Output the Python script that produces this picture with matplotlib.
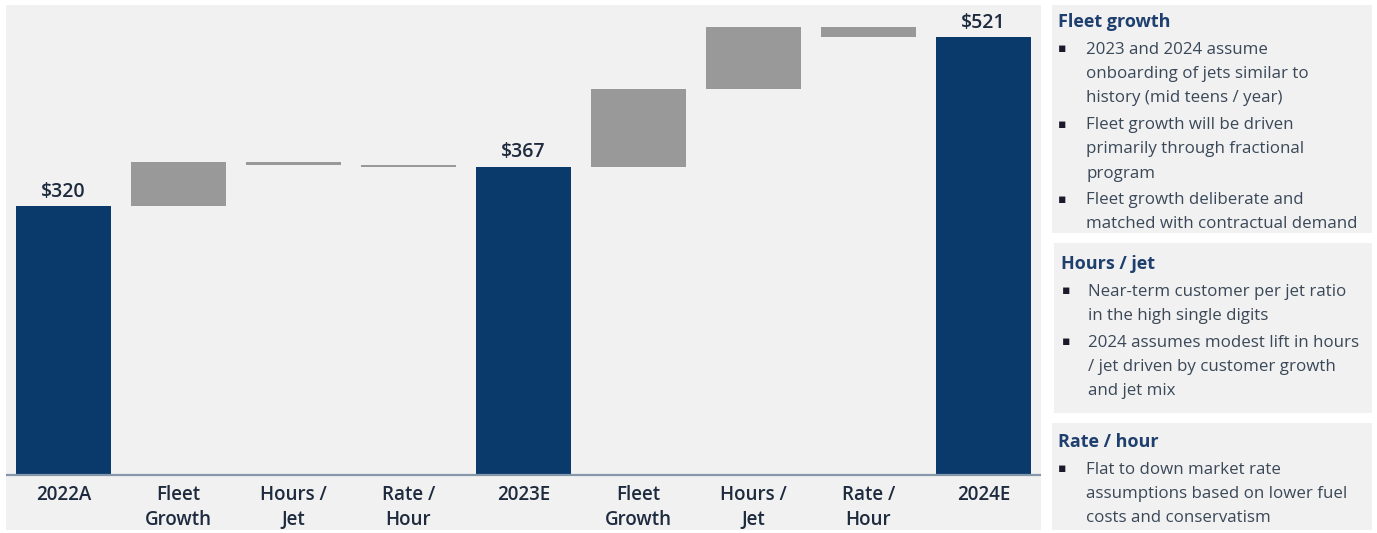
"""Waterfall of revenue build 2022A -> 2024E with commentary panels on the right."""
import matplotlib

matplotlib.use("Agg")
import matplotlib.pyplot as plt
from matplotlib.patches import Rectangle
import numpy as np

plt.rcParams["font.family"] = ["Open Sans", "DejaVu Sans"]

CATEGORIES = ["2022A", "Fleet\nGrowth", "Hours /\nJet", "Rate /\nHour", "2023E",
              "Fleet\nGrowth", "Hours /\nJet", "Rate /\nHour", "2024E"]
# totals carry a value, steps carry a delta
KINDS = ["total", "step", "step", "step", "total", "step", "step", "step", "total"]
VALUES = [320, 53, -4, -2, 367, 92, 74, -12, 521]
TOTAL_LABELS = ["$320", "$367", "$521"]

NOTE_TITLES = ["Fleet growth", "Hours / jet", "Rate / hour"]
NOTE_BULLETS = [
    ["2023 and 2024 assume\nonboarding of jets similar to\nhistory (mid teens / year)",
     "Fleet growth will be driven\nprimarily through fractional\nprogram",
     "Fleet growth deliberate and\nmatched with contractual demand"],
    ["Near-term customer per jet ratio\nin the high single digits",
     "2024 assumes modest lift in hours\n/ jet driven by customer growth\nand jet mix"],
    ["Flat to down market rate\nassumptions based on lower fuel\ncosts and conservatism"],
]

NAVY = "#0a3a6b"
GREY = "#999999"
PANEL = "#f1f1f1"
LABEL = "#1e2b3e"
TITLE = "#1f3f6e"
BODY = "#3a4858"

W, H = 1377, 533
fig = plt.figure(figsize=(W / 100, H / 100), dpi=100, facecolor="white")


def px_box(x0, y0, x1, y1):
    # pixel box (top-left origin) -> figure fraction rect
    return [x0 / W, 1 - y1 / H, (x1 - x0) / W, (y1 - y0) / H]


ax = fig.add_axes(px_box(6, 5, 1041, 530))
ax.set_facecolor(PANEL)
ax.set_xlim(-0.5, 8.5)
ax.set_ylim(-65.5, 559.5)
for s in ax.spines.values():
    s.set_visible(False)
ax.set_xticks([])
ax.set_yticks([])

x = np.arange(len(CATEGORIES))
running = 0
totals_done = 0
for i, (kind, v) in enumerate(zip(KINDS, VALUES)):
    if kind == "total":
        ax.bar(x[i], v, width=0.83, color=NAVY, zorder=2)
        ax.text(x[i], v + 5, TOTAL_LABELS[totals_done], ha="center", va="bottom",
                fontsize=14, fontweight="semibold", color=LABEL)
        totals_done += 1
        running = v
    else:
        bottom = running if v >= 0 else running + v
        ax.bar(x[i], abs(v), bottom=bottom, width=0.83, color=GREY, zorder=2)
        running += v

ax.axhline(0, color="#8597aa", lw=1.6, zorder=3)
for i, lab in enumerate(CATEGORIES):
    ax.text(x[i], -12, lab, ha="center", va="top", fontsize=13.5,
            fontweight="semibold", color=LABEL, linespacing=1.3)

# commentary panels: (left, top, right, bottom, title x, bullet x, text x)
boxes = [(1052, 5, 1372, 233, 1058, 1062, 1086),
         (1054, 243, 1372, 413, 1061, 1066, 1088),
         (1052, 423, 1372, 530, 1058, 1062, 1086)]
title_y = [21, 263, 441]
line_h = 24.2
for (x0, y0, x1, y1, tx, bx, lx), ty, title, bullets in zip(boxes, title_y, NOTE_TITLES, NOTE_BULLETS):
    fig.patches.append(Rectangle((x0 / W, 1 - y1 / H), (x1 - x0) / W, (y1 - y0) / H,
                                 transform=fig.transFigure, facecolor=PANEL, edgecolor="none"))
    fig.text(tx / W, 1 - (ty + 1) / H, title, ha="left", va="center", fontsize=13,
             fontweight="bold", color=TITLE)
    y = ty + 29
    for b in bullets:
        fig.text(bx / W, 1 - (y - 1) / H, "\u25aa", ha="center", va="center", fontsize=9, color="#1a1a2a")
        for ln in b.split("\n"):
            fig.text(lx / W, 1 - y / H, ln, ha="left", va="center", fontsize=12.2, color=BODY)
            y += line_h
        y += 2.5

fig.savefig("out.png", dpi=100, facecolor="white")
